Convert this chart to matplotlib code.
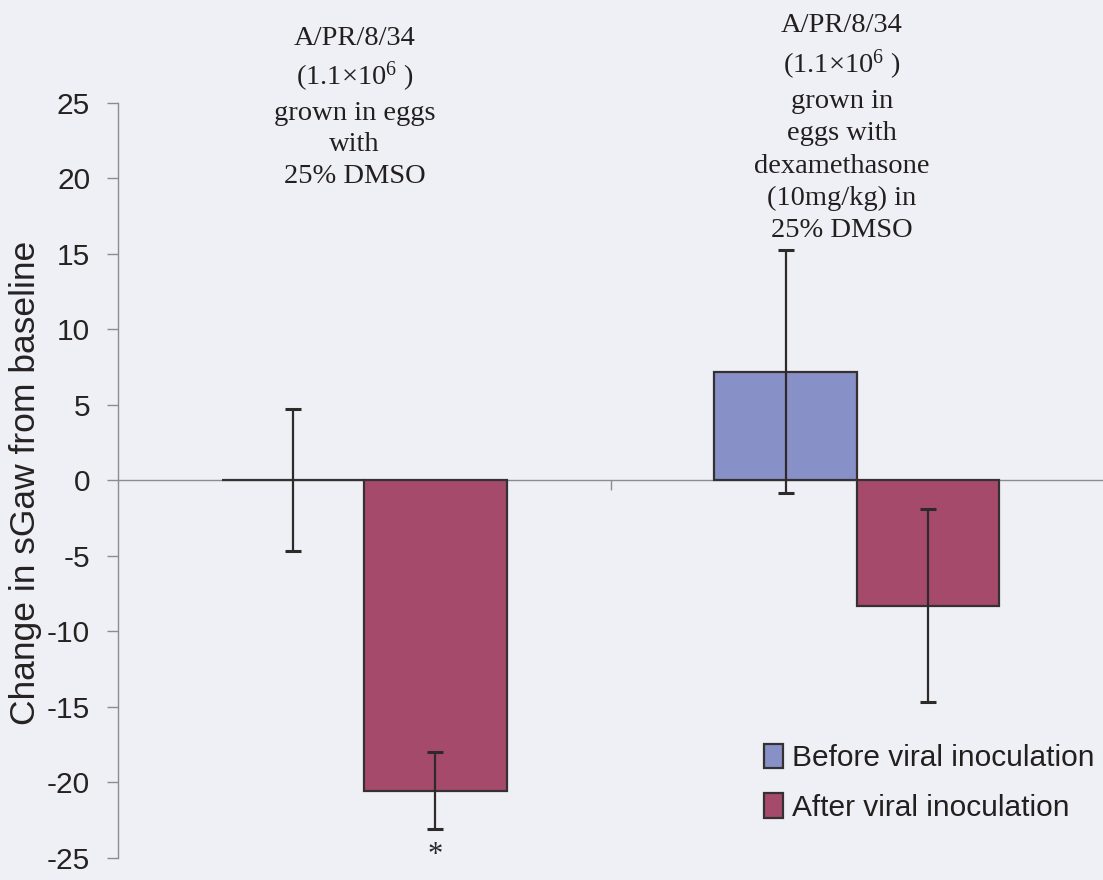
import matplotlib
matplotlib.use('Agg')
import matplotlib.pyplot as plt
from matplotlib import font_manager, transforms
import numpy as np

# ---- data ----
group_labels = [
    "A/PR/8/34\n(1.1×10$^{6}$ )\ngrown in eggs\nwith\n25% DMSO",
    "A/PR/8/34\n(1.1×10$^{6}$ )\ngrown in\neggs with\ndexamethasone\n(10mg/kg) in\n25% DMSO",
]
series_names = ["Before viral inoculation", "After viral inoculation"]
before = [0.05, 7.2]
before_err = [4.7, 8.05]
after = [-20.55, -8.29]
after_err = [2.54, 6.4]
after_sig = ["*", ""]
yticks = [-25, -20, -15, -10, -5, 0, 5, 10, 15, 20, 25]

# ---- style ----
bg = "#eef0f6"
c_before = "#8890c8"
c_after = "#a64a6c"
edge = "#363030"
axis_grey = "#8c8c8c"
plt.rcParams['mathtext.default'] = 'regular'

names = {f.name for f in font_manager.fontManager.ttflist}
if 'Liberation Sans Narrow' in names:
    narrow = 'Liberation Sans Narrow'
    tick_fs, leg_fs = 25, 25
else:
    narrow = 'Liberation Sans'
    tick_fs, leg_fs = 21.5, 21.5

W, H = 1103, 880
fig = plt.figure(figsize=(W / 100, H / 100), dpi=100, facecolor=bg)
ax_left, ax_top_px, ax_bot_px = 118, 102.7, 858
ax = fig.add_axes([ax_left / W, 1 - ax_bot_px / H, 1 - ax_left / W, (ax_bot_px - ax_top_px) / H])
ax.set_facecolor(bg)

x = np.arange(len(before))
w = 0.289
eb_kw = dict(ecolor="#2e2a2a", elinewidth=1.6, capsize=6, capthick=2.2)
b1 = ax.bar(x - w / 2, before, w, color=c_before, edgecolor=edge, linewidth=1.6,
            label=series_names[0], zorder=2)
b2 = ax.bar(x + w / 2, after, w, color=c_after, edgecolor=edge, linewidth=1.6,
            label=series_names[1], zorder=2)
ax.errorbar(x - w / 2, before, yerr=before_err, fmt='none', zorder=3, **eb_kw)
ax.errorbar(x + w / 2, after, yerr=after_err, fmt='none', zorder=3, **eb_kw)

for xi, v, e, s in zip(x + w / 2, after, after_err, after_sig):
    if s:
        ax.text(xi, v - e - 1.75, s, ha='center', va='center', fontsize=22,
                family='Liberation Serif', color="#2a2a2a", clip_on=False)

ax.set_xlim(-0.5, 1.5)
ax.set_ylim(-25, 25)
ax.set_yticks(yticks)
ax.set_yticklabels([str(t) for t in yticks], family=narrow, fontsize=tick_fs, color="#262222")
ax.tick_params(axis='y', length=8, width=1.0, color=axis_grey, pad=12)

ax.spines['top'].set_visible(False)
ax.spines['right'].set_visible(False)
ax.spines['left'].set_color(axis_grey)
ax.spines['left'].set_linewidth(1.0)
ax.spines['bottom'].set_position(('data', 0))
ax.spines['bottom'].set_color(axis_grey)
ax.spines['bottom'].set_linewidth(1.0)
ax.spines['bottom'].set_zorder(1)
ax.set_xticks([0.5])
ax.set_xticklabels([''])
ax.tick_params(axis='x', length=7, width=1.0, color=axis_grey, direction='out')

ax.set_ylabel("Change in sGaw from baseline", family='Liberation Sans', fontsize=25.5,
              color="#262222")
ax.yaxis.set_label_coords(-0.077, 0.497)

# group annotations above the plot
tr = transforms.blended_transform_factory(ax.transData, fig.transFigure)
ax.text(-0.02, 0.971, group_labels[0], transform=tr, ha='center', va='top',
        multialignment='center', family='Liberation Serif', fontsize=20.5,
        linespacing=1.36, color="#231f1f")
ax.text(0.97, 0.985, group_labels[1], transform=tr, ha='center', va='top',
        multialignment='center', family='Liberation Serif', fontsize=20.5,
        linespacing=1.38, color="#231f1f")

leg = ax.legend(handles=[b1, b2], loc='upper left',
                bbox_to_anchor=(764 / W, 1 - 744 / H), bbox_transform=fig.transFigure,
                frameon=False, borderpad=0, borderaxespad=0,
                handlelength=0.64, handleheight=0.87, handletextpad=0.3,
                labelspacing=0.7, prop={'family': narrow, 'size': leg_fs})
for t in leg.get_texts():
    t.set_color("#231f1f")

fig.savefig("out.png", dpi=100, facecolor=bg)
